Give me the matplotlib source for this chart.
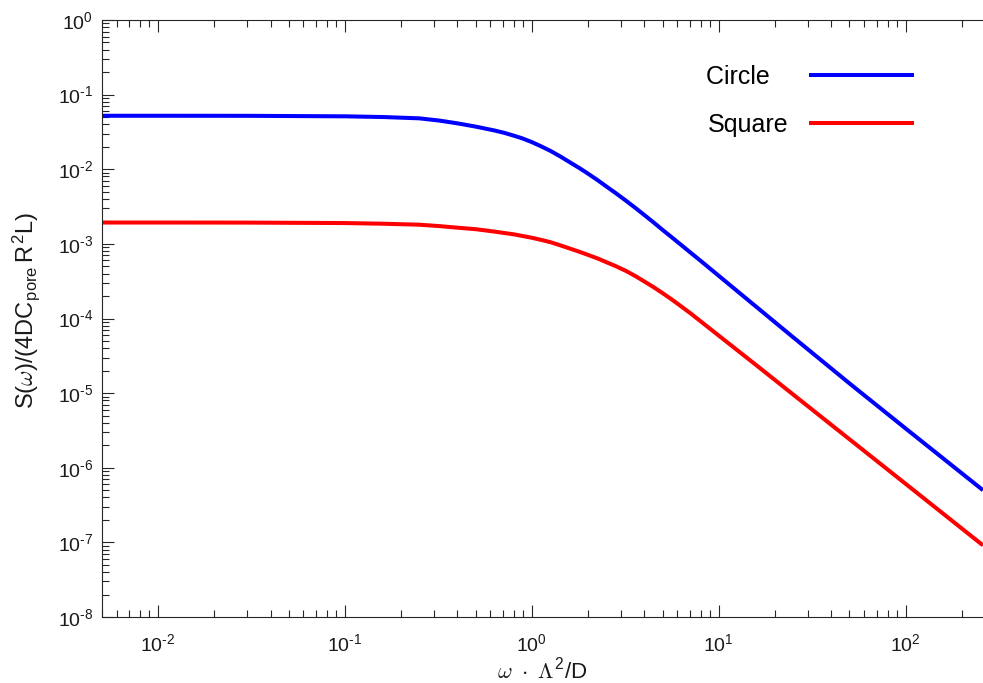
import numpy as np
import matplotlib
matplotlib.use("Agg")
import matplotlib.pyplot as plt
from matplotlib.ticker import LogLocator, NullFormatter, FuncFormatter

# normalised frequency  omega * Lambda^2 / D
omega = [0.005, 0.01, 0.03, 0.1, 0.16, 0.25, 0.32, 0.4, 0.5, 0.63, 0.71, 0.8,
         0.89, 1.0, 1.12, 1.26, 1.42, 1.6, 1.8, 2.0, 2.25, 2.5, 2.8, 3.2, 3.6,
         4.0, 4.5, 5.0, 5.6, 6.3, 7.1, 8.0, 10, 16, 25, 50, 100, 259]

# normalised spectral density for the two pore cross-sections
circle = [0.0521, 0.0521, 0.0520, 0.0512, 0.0501, 0.0481, 0.0449, 0.0412,
          0.0373, 0.0331, 0.0308, 0.0282, 0.0259, 0.0231, 0.0203, 0.01758,
          0.01483, 0.01236, 0.01033, 8.71e-3, 7.13e-3, 5.89e-3, 4.82e-3,
          3.76e-3, 3.00e-3, 2.43e-3, 1.92e-3, 1.54e-3, 1.227e-3, 9.64e-4,
          7.55e-4, 5.92e-4, 3.73e-4, 1.41e-4, 5.60e-5, 1.35e-5, 3.35e-6, 5.0e-7]
square = [1.932e-3, 1.932e-3, 1.928e-3, 1.901e-3, 1.862e-3, 1.807e-3, 1.730e-3,
          1.648e-3, 1.574e-3, 1.462e-3, 1.40e-3, 1.343e-3, 1.276e-3, 1.208e-3,
          1.132e-3, 1.052e-3, 9.55e-4, 8.65e-4, 7.82e-4, 7.11e-4, 6.37e-4,
          5.69e-4, 5.05e-4, 4.32e-4, 3.67e-4, 3.13e-4, 2.61e-4, 2.19e-4,
          1.80e-4, 1.45e-4, 1.16e-4, 9.16e-5, 5.89e-5, 2.33e-5, 9.57e-6,
          2.41e-6, 6.07e-7, 9.12e-8]

series_names = ["Circle", "Square"]
series_colors = ["#0000ff", "#ff0000"]

plt.rcParams["font.family"] = ["Liberation Sans", "DejaVu Sans"]
plt.rcParams["mathtext.fontset"] = "cm"
plt.rcParams["axes.unicode_minus"] = False

W, H = 983, 683
fig = plt.figure(figsize=(W / 100, H / 100), dpi=100)
left, right, top, bottom = 101.7, 983.0, 20.0, 617.0
ax = fig.add_axes([left / W, 1 - bottom / H, (right - left) / W, (bottom - top) / H])

for vals, name, col in zip([circle, square], series_names, series_colors):
    ax.plot(omega, vals, color=col, lw=2.9, label=name, solid_capstyle="butt",
            solid_joinstyle="round")

ax.set_xscale("log")
ax.set_yscale("log")
ax.set_xlim(0.005, 259)
ax.set_ylim(1e-8, 1)


def pow10(v, pos):
    e = int(round(np.log10(v)))
    s = str(e).replace("-", "\u2010")
    return r"$\mathdefault{10^{%s}}$" % s


ax.xaxis.set_major_locator(LogLocator(base=10, numticks=20))
ax.xaxis.set_minor_locator(LogLocator(base=10, subs=np.arange(2, 10), numticks=20))
ax.yaxis.set_major_locator(LogLocator(base=10, numticks=20))
ax.yaxis.set_minor_locator(LogLocator(base=10, subs=np.arange(2, 10), numticks=20))
ax.xaxis.set_major_formatter(FuncFormatter(pow10))
ax.yaxis.set_major_formatter(FuncFormatter(pow10))
ax.xaxis.set_minor_formatter(NullFormatter())
ax.yaxis.set_minor_formatter(NullFormatter())

spine_col = "#262626"
for s in ["left", "bottom", "top"]:
    ax.spines[s].set_color(spine_col)
    ax.spines[s].set_linewidth(0.8)
ax.spines["right"].set_visible(False)

ax.tick_params(which="both", direction="in", top=True, right=False,
               colors=spine_col, labelcolor="#1a1a1a", width=0.8)
ax.tick_params(which="major", length=8.5, labelsize=14)
ax.tick_params(which="minor", length=5)
ax.tick_params(axis="x", which="major", pad=12)
ax.tick_params(axis="y", which="major", pad=6)

ax.set_xlabel(r"$\omega\ \cdot\ \Lambda^{\mathdefault{2}}$/D", fontsize=16,
              color="#1a1a1a", labelpad=2)
ax.set_ylabel(r"S($\omega$)/(4DC$_{\mathdefault{pore}}\,$R$^{\mathdefault{2}}$L)",
              fontsize=17, color="#1a1a1a")
ax.yaxis.set_label_coords(-0.068, 0.514)

leg = ax.legend(["Circle  \u2009", "Square"], loc="upper right",
                bbox_to_anchor=(0.9215, 0.925), frameon=False,
                markerfirst=False, fontsize=18, handlelength=4.2,
                handletextpad=0.8, labelspacing=0.95, borderpad=0,
                borderaxespad=0)

fig.savefig("out.png", dpi=100, facecolor="white")
